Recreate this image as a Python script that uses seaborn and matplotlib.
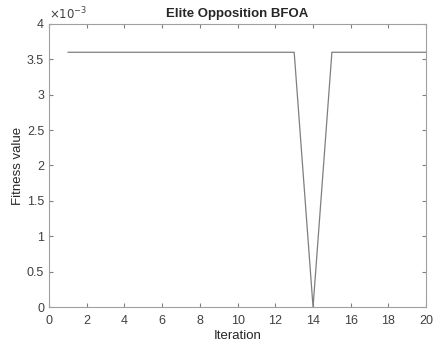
import matplotlib
matplotlib.use("Agg")
import matplotlib.pyplot as plt
import matplotlib.ticker as mticker
import seaborn as sns
import pandas as pd

iterations = list(range(1, 21))
fitness = [3.6e-3] * 13 + [0.0] + [3.6e-3] * 6

df = pd.DataFrame({"Iteration": iterations, "Fitness value": fitness})

sns.set_style("white")
plt.rcParams['font.family'] = ['Liberation Sans', 'DejaVu Sans']

fig = plt.figure(figsize=(4.34, 3.41), dpi=100)
ax = fig.add_axes([0.113, 0.0997, 0.869, 0.83])
sns.lineplot(data=df, x="Iteration", y="Fitness value", ax=ax, color="#7f7f7f", linewidth=0.9)

ax.set_xlim(0, 20)
ax.set_ylim(0, 4e-3)
ax.set_xticks(range(0, 21, 2))
ax.set_yticks([i * 0.5e-3 for i in range(9)])
ax.yaxis.set_major_formatter(mticker.FuncFormatter(lambda v, p: f"{v*1e3:g}"))
ax.text(0.0, 1.005, r"$\times10^{-3}$", transform=ax.transAxes, fontsize=8.5,
        color="#404040", ha="left", va="bottom")

for s in ax.spines.values():
    s.set_color("#a0a0a0")
    s.set_linewidth(0.8)
ax.tick_params(axis="both", direction="in", length=3, color="#808080",
               labelsize=9, labelcolor="#404040", top=True, right=True,
               bottom=True, left=True)
ax.tick_params(axis="x", pad=6)
ax.set_xlabel("Iteration", fontsize=9.5, color="#262626", labelpad=2)
ax.set_ylabel("Fitness value", fontsize=9.5, color="#262626", labelpad=2)
ax.set_title("Elite Opposition BFOA", fontsize=9.5, fontweight="bold", pad=5)

fig.savefig("out.png", dpi=100)
